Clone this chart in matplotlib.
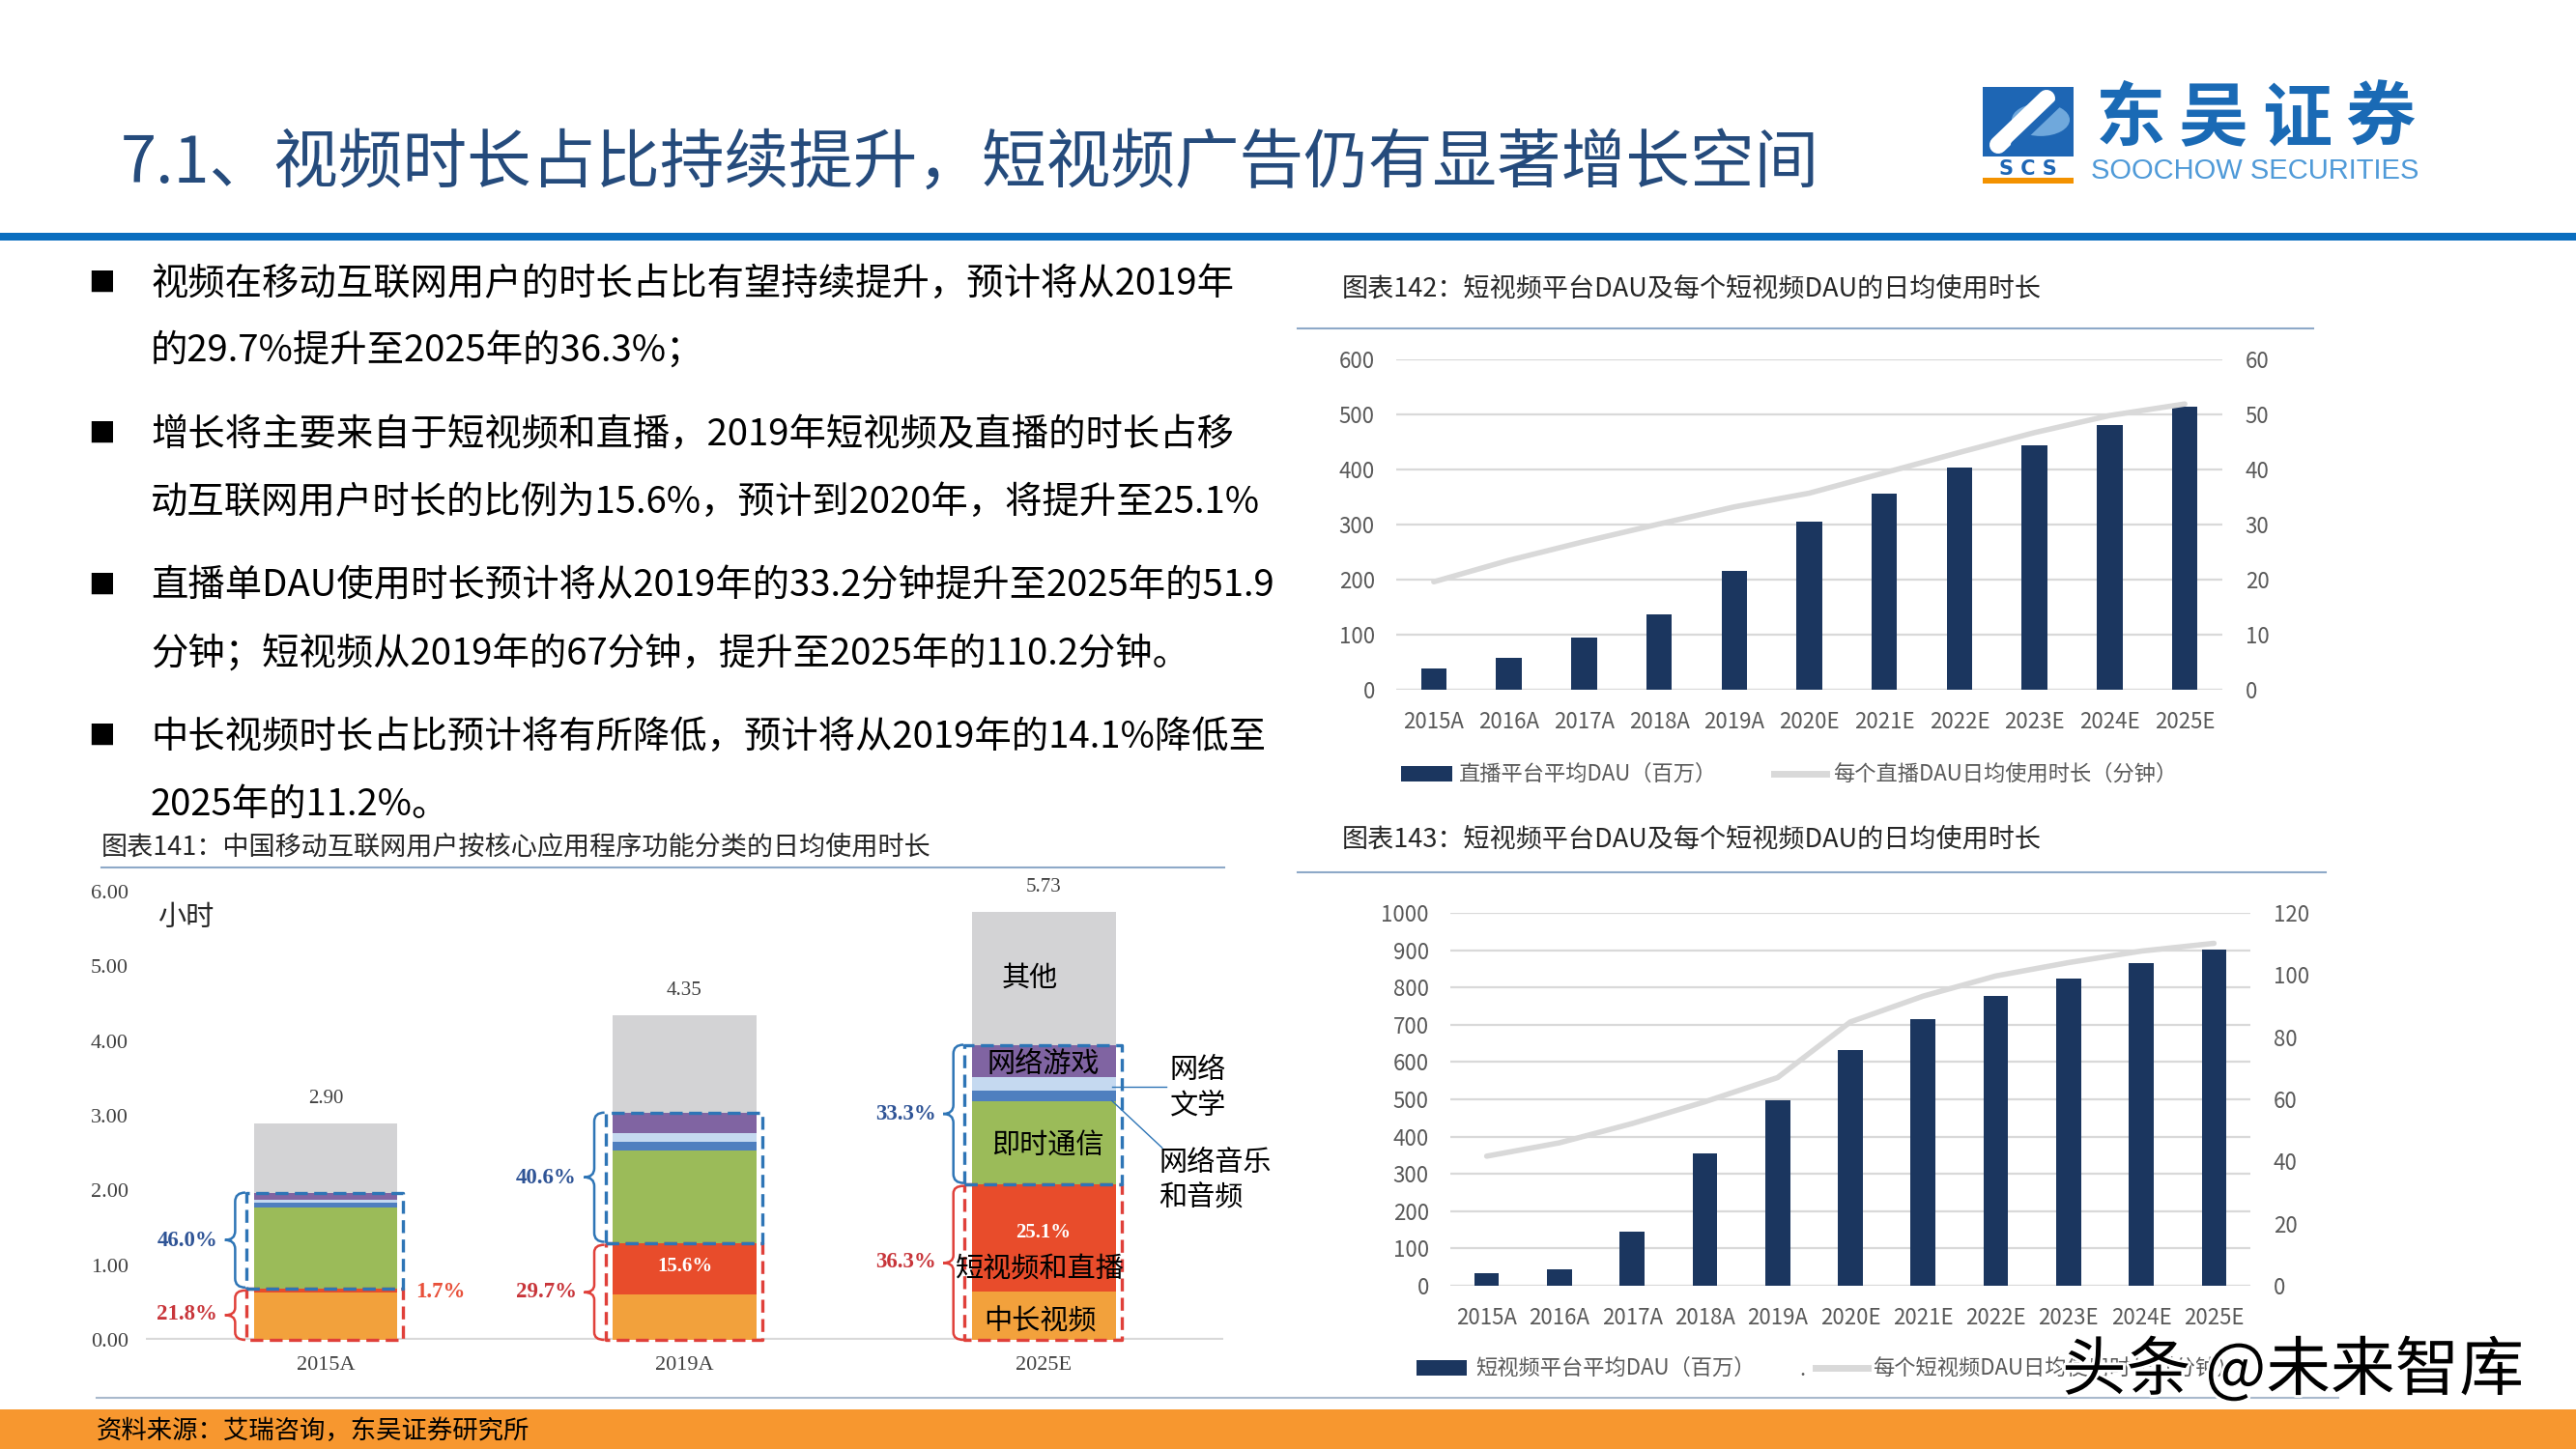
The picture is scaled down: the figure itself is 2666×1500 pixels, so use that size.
import matplotlib
matplotlib.use('Agg')
import matplotlib.pyplot as plt
import numpy as np
from matplotlib.patches import Rectangle, PathPatch, Circle
from matplotlib.path import Path
from matplotlib.lines import Line2D
import matplotlib.patheffects as pe

plt.rcParams['font.family'] = ['Noto Sans CJK SC', 'DejaVu Sans']

# ---------------- data ----------------
title = '7.1、视频时长占比持续提升，短视频广告仍有显著增长空间'

bullets = [
    ['视频在移动互联网用户的时长占比有望持续提升，预计将从2019年',
     '的29.7%提升至2025年的36.3%；'],
    ['增长将主要来自于短视频和直播，2019年短视频及直播的时长占移',
     '动互联网用户时长的比例为15.6%，预计到2020年，将提升至25.1%'],
    ['直播单DAU使用时长预计将从2019年的33.2分钟提升至2025年的51.9',
     '分钟；短视频从2019年的67分钟，提升至2025年的110.2分钟。'],
    ['中长视频时长占比预计将有所降低，预计将从2019年的14.1%降低至',
     '2025年的11.2%。'],
]

# chart 141: stacked hours per day
years_l = ['2015A', '2019A', '2025E']
totals = [2.90, 4.35, 5.73]
long_video = [0.632, 0.613, 0.642]
short_live = [0.049, 0.679, 1.438]
instant_msg = [1.09, 1.24, 1.12]
music_audio = [0.06, 0.12, 0.14]
literature = [0.05, 0.12, 0.18]
games = [0.09, 0.27, 0.43]
other = [0.929, 1.308, 1.78]
blue_pct = ['46.0%', '40.6%', '33.3%']
red_pct = ['21.8%', '29.7%', '36.3%']
short_pct = ['', '15.6%', '25.1%']

# chart 142 / 143
years = ['2015A', '2016A', '2017A', '2018A', '2019A', '2020E',
         '2021E', '2022E', '2023E', '2024E', '2025E']
live_dau = [38, 58, 95, 137, 215, 306, 357, 403, 444, 480, 514]
live_minutes = [19.6, 23.5, 26.9, 30.1, 33.2, 35.7, 39.4, 43.1, 46.7, 49.8, 51.9]
short_dau = [34, 45, 144, 354, 497, 632, 715, 776, 824, 864, 902]
short_minutes = [41.7, 46.0, 52.2, 59.2, 67.0, 84.9, 93.2, 99.7, 104.0, 107.7, 110.2]

W, H = 2666, 1500


def fx(px):
    return px / W


def fy(py):
    return 1 - py / H


fig = plt.figure(figsize=(26.66, 15), dpi=100)

# ---------------- header ----------------
fig.text(fx(125), fy(170), title, fontsize=48, color='#254B7C', va='center')
fig.add_artist(Rectangle((0, fy(249)), 1, 8 / H, transform=fig.transFigure,
                         color='#0B6EBF', lw=0))

# logo
fig.add_artist(Rectangle((fx(2052), fy(162)), 94 / W, 72 / H, transform=fig.transFigure,
                         color='#1E66B4', lw=0))
fig.add_artist(Circle((fx(2112), fy(124)), 30 / W, transform=fig.transFigure,
                      color='#6FA8DC', lw=0))
fig.add_artist(Line2D([fx(2068), fx(2118)], [fy(150), fy(102)], transform=fig.transFigure,
                      color='white', lw=13, solid_capstyle='round'))
fig.add_artist(Line2D([fx(2085), fx(2133)], [fy(150), fy(104)], transform=fig.transFigure,
                      color='#1E66B4', lw=6, solid_capstyle='round'))
fig.text(fx(2099), fy(175), 'S C S', fontsize=15, fontweight='bold', color='#1E66B4',
         ha='center', va='center', family='DejaVu Sans')
fig.add_artist(Rectangle((fx(2052), fy(190)), 94 / W, 6 / H, transform=fig.transFigure,
                         color='#F39200', lw=0))
for k, ch in enumerate('东吴证券'):
    fig.text(fx(2205 + k * 86), fy(124), ch, fontsize=52, fontweight='bold',
             color='#1A6AB5', ha='center', va='center')
fig.text(fx(2164), fy(177), 'SOOCHOW SECURITIES', fontsize=21, color='#4F9AD8',
         va='center', family='Liberation Sans')

# ---------------- bullets ----------------
line_y = [294, 364, 450, 520, 607, 678, 763, 833]
k = 0
for para in bullets:
    fig.text(fx(105), fy(line_y[k]), '■', fontsize=20, color='black', va='center', ha='center')
    for ln in para:
        fig.text(fx(156), fy(line_y[k]), ln, fontsize=27.6, color='black', va='center')
        k += 1

# ---------------- chart titles ----------------
ttl_col = '#262626'
fig.text(fx(105), fy(877), '图表141：中国移动互联网用户按核心应用程序功能分类的日均使用时长',
         fontsize=19.5, color=ttl_col, va='center')
fig.add_artist(Line2D([fx(105), fx(1267)], [fy(898), fy(898)], transform=fig.transFigure,
                      color='#8EA9C8', lw=1.5))
fig.text(fx(1389), fy(299), '图表142：短视频平台DAU及每个短视频DAU的日均使用时长',
         fontsize=19.5, color=ttl_col, va='center')
fig.add_artist(Line2D([fx(1343), fx(2394)], [fy(340), fy(340)], transform=fig.transFigure,
                      color='#8EA9C8', lw=1.5))
fig.text(fx(1389), fy(869), '图表143：短视频平台DAU及每个短视频DAU的日均使用时长',
         fontsize=19.5, color=ttl_col, va='center')
fig.add_artist(Line2D([fx(1343), fx(2407)], [fy(903), fy(903)], transform=fig.transFigure,
                      color='#8EA9C8', lw=1.5))

# ---------------- chart 141 (stacked) ----------------
axl = fig.add_axes([fx(151), fy(1387), (1266 - 151) / W, (1387 - 923) / H])
xl = np.arange(len(years_l))
bw = 0.4
segs = [long_video, short_live, instant_msg, music_audio, literature, games, other]
seg_cols = ['#F2A13C', '#E84C2B', '#9BBB59', '#4F7FBF', '#C5D9F0', '#8064A2', '#D3D3D5']
bottom = np.zeros(len(xl))
for vals, col in zip(segs, seg_cols):
    axl.bar(xl, vals, bw, bottom=bottom, color=col, zorder=2)
    bottom += np.array(vals)
axl.set_xlim(-0.5, 2.5)
axl.set_ylim(0, 6)
axl.set_yticks(np.arange(0, 7))
axl.set_yticklabels([f'{v:.2f}' for v in np.arange(0, 7)])
axl.set_xticks(xl)
axl.set_xticklabels(years_l)
axl.tick_params(length=0, labelsize=16, labelcolor='#404040', labelfontfamily='Liberation Serif')
axl.tick_params(axis='y', pad=13)
axl.tick_params(axis='x', pad=12)
for s in axl.spines.values():
    s.set_visible(False)
axl.axhline(0, color='#D9D9D9', lw=3, zorder=1)
axl.text(-0.39, 5.65, '小时', fontsize=21, color='#262626', ha='center', va='center')


def brace(ax, xr, y0, y1, w, r, color):
    xm = xr - w / 2
    ym = (y0 + y1) / 2
    verts = [(xr, y0), (xm, y0), (xm, y0 + r), (xm, ym - r), (xm, ym), (xr - w, ym),
             (xm, ym), (xm, ym + r), (xm, y1 - r), (xm, y1), (xr, y1)]
    codes = [Path.MOVETO, Path.CURVE3, Path.CURVE3, Path.LINETO, Path.CURVE3, Path.CURVE3,
             Path.CURVE3, Path.CURVE3, Path.LINETO, Path.CURVE3, Path.CURVE3]
    ax.add_patch(PathPatch(Path(verts, codes), fill=False, edgecolor=color, lw=1.8,
                           clip_on=False, zorder=4))


blue_c, red_c = '#2E75B6', '#E0403A'
for i in range(len(xl)):
    left = xl[i] - bw / 2
    right = xl[i] + bw / 2
    red_top = long_video[i] + short_live[i]
    blue_top = red_top + instant_msg[i] + music_audio[i] + literature[i] + games[i]
    bl, br = left - 0.02, right + 0.017
    axl.plot([bl, br, br, bl, bl], [red_top, red_top, 0, 0, red_top], color=red_c, lw=2.4,
             ls=(0, (4, 2)), zorder=3, clip_on=False)
    axl.plot([bl, br, br, bl, bl], [red_top, red_top, blue_top, blue_top, red_top], color=blue_c,
             lw=2.4, ls=(0, (4, 2)), zorder=3, clip_on=False)
    brace(axl, left - 0.023, red_top + 0.02, blue_top, 0.057, 0.12, blue_c)
    brace(axl, left - 0.023, 0, red_top - 0.02, 0.057, 0.1, red_c)
    axl.text(left - 0.10, (red_top + blue_top) / 2, blue_pct[i], fontsize=16.5, fontweight='bold',
             color='#2F5496', ha='right', va='center', family='Liberation Serif')
    axl.text(left - 0.10, red_top / 2, red_pct[i], fontsize=16.5, fontweight='bold',
             color='#C8353A', ha='right', va='center', family='Liberation Serif')
    axl.text(xl[i], totals[i] + 0.33, f'{totals[i]:.2f}', fontsize=15, color='#404040',
             ha='center', va='center', family='Liberation Serif')
    if short_pct[i]:
        axl.text(xl[i], long_video[i] + short_live[i] * 0.55, short_pct[i], fontsize=15,
                 fontweight='bold', color='white', ha='center', va='center',
                 family='Liberation Serif', zorder=5)

axl.text(0.32, 0.64, '1.7%', fontsize=16.5, fontweight='bold', color='#E8503A',
         ha='center', va='center', family='Liberation Serif')

# labels inside 2025E bar
lab_kw = dict(fontsize=21, color='black', ha='center', va='center', zorder=6)
axl.text(1.96, 4.84, '其他', **lab_kw)
axl.text(2.0, 3.69, '网络游戏', **lab_kw)
axl.text(2.01, 2.59, '即时通信', **lab_kw)
axl.text(1.99, 0.95, '短视频和直播', **lab_kw)
axl.text(1.99, 0.24, '中长视频', **lab_kw)
axl.plot([2.19, 2.34], [3.39, 3.39], color='#2E75B6', lw=1, zorder=6)
axl.text(2.43, 3.61, '网络', fontsize=21, ha='center', va='center')
axl.text(2.43, 3.13, '文学', fontsize=21, ha='center', va='center')
axl.plot([2.19, 2.33], [3.2, 2.57], color='#2E75B6', lw=1, zorder=6)
axl.text(2.32, 2.37, '网络音乐', fontsize=21, ha='left', va='center')
axl.text(2.32, 1.89, '和音频', fontsize=21, ha='left', va='center')

# ---------------- chart 142 / 143 ----------------
bar_col = '#1B365F'
line_col = '#D9D9D9'
tick_col = '#595959'


def dau_chart(rect, dau, minutes, ymax, ystep, y2max, y2step):
    ax = fig.add_axes(rect)
    xs = np.arange(len(years))
    ax.bar(xs, dau, 0.34, color=bar_col, zorder=2)
    ax.set_xlim(-0.5, len(years) - 0.5)
    ax.set_ylim(0, ymax)
    ax.set_yticks(np.arange(0, ymax + 1, ystep))
    ax.set_xticks(xs)
    ax.set_xticklabels(years)
    ax.grid(axis='y', color='#D9D9D9', lw=1.6, zorder=0)
    ax.set_axisbelow(True)
    for s in ax.spines.values():
        s.set_visible(False)
    ax.tick_params(length=0, labelsize=16, labelcolor=tick_col)
    ax.tick_params(axis='y', pad=16)
    ax.tick_params(axis='x', pad=16)
    ax2 = ax.twinx()
    ax2.plot(xs, minutes, color=line_col, lw=4, solid_capstyle='round')
    ax2.set_ylim(0, y2max)
    ax2.set_yticks(np.arange(0, y2max + 1, y2step))
    for s in ax2.spines.values():
        s.set_visible(False)
    ax2.tick_params(length=0, labelsize=16, labelcolor=tick_col, pad=17)
    return ax


dau_chart([fx(1445), fy(714), (2300 - 1445) / W, (714 - 372) / H],
          live_dau, live_minutes, 600, 100, 60, 10)
dau_chart([fx(1501), fy(1331), (2329 - 1501) / W, (1331 - 945) / H],
          short_dau, short_minutes, 1000, 100, 120, 20)


def legend(yc, bx0, bx1, t1, lx0, lx1, t2, s1, s2):
    fig.add_artist(Rectangle((fx(bx0), fy(yc + 8)), (bx1 - bx0) / W, 16 / H,
                             transform=fig.transFigure, color=bar_col, lw=0))
    fig.text(fx(t1), fy(yc), s1, fontsize=16, color=tick_col, va='center')
    fig.add_artist(Line2D([fx(lx0), fx(lx1)], [fy(yc), fy(yc)], transform=fig.transFigure,
                          color=line_col, lw=5))
    fig.text(fx(t2), fy(yc), s2, fontsize=16, color=tick_col, va='center')


legend(801, 1450, 1503, 1510, 1836, 1890, 1897,
       '直播平台平均DAU（百万）', '每个直播DAU日均使用时长（分钟）')
legend(1416, 1466, 1518, 1527, 1879, 1933, 1938,
       '短视频平台平均DAU（百万）', '每个短视频DAU日均使用时长（分钟）')
fig.text(fx(1862), fy(1418), '.', fontsize=16, color=tick_col, va='center')

# ---------------- footer ----------------
fig.add_artist(Line2D([fx(100), fx(2420)], [fy(1447), fy(1447)], transform=fig.transFigure,
                      color='#A9B9CC', lw=1.5))
fig.add_artist(Rectangle((0, 0), 1, 41 / H, transform=fig.transFigure, color='#F7972F', lw=0))
fig.text(fx(100), fy(1481), '资料来源：艾瑞咨询，东吴证券研究所', fontsize=19, color='black',
         va='center')

# watermark over the lower legend, as in the source slide
fig.text(fx(2134), fy(1420), '头条 @未来智库', fontsize=48, color='black', va='center',
         path_effects=[pe.withStroke(linewidth=4, foreground='white')])

fig.savefig('out.png', dpi=100)
